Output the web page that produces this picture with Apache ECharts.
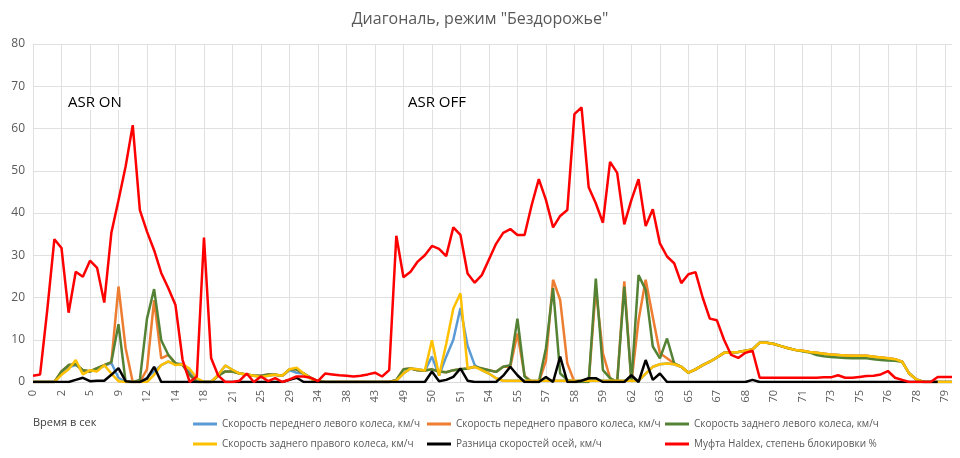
<!DOCTYPE html>
<html>
<head>
<meta charset="utf-8">
<script src="https://cdn.jsdelivr.net/npm/echarts@6/dist/echarts.min.js"></script>
<style>html,body{margin:0;padding:0;background:#fff}#main{width:960px;height:458px}</style>
</head>
<body>
<div id="main"></div>
<script>
// подписи оси X (каждая 4-я точка)
var secLabels = ['0','2','5','9','12','14','18','21','25','29','34','38','43','49','50','51','54','55','57','58','59','62','63','65','67','68','70','71','73','75','76','78','79'];
var categories = [];
for (var i = 0; i < 130; i++) {
    categories.push(secLabels[Math.min(Math.floor(i / 4), secLabels.length - 1)] + (i % 4 ? '.' + (i % 4) : ''));
}

var tail = [2.2,3,4,4.8,5.8,6.9,7,7.1,7.4,7.7,9.3,9.3,9,8.5,8,7.6,7.4,7.1,6.9,6.7,6.5,6.4,6.3,6.2,6.2,6.2,6,5.8,5.6,5.4,4.8,2,0.6,0,0,0,0,0];
var tailGreen = [2.2,3,4,4.8,5.8,6.9,7,7.1,7.4,7.7,9.3,9.3,9,8.5,8,7.6,7.3,7,6.4,6.1,5.9,5.8,5.7,5.6,5.6,5.6,5.4,5.2,5.1,5,4.8,2,0.6,0,0,0,0,0];

var frontLeft = [0,0,0,0,2,3.5,4,2.8,2.5,3,3.8,4.5,1,0,0,0,1,2.5,4,4.8,4.3,4.3,2.5,0.5,0,0,1.7,3.9,2.9,2,1.8,1.5,1.2,1.5,1.7,1.5,2.8,2.2,2,0.8,0,0,0,0,0,0,0,0,0,0,0,0.3,2,3.2,3,2.7,6,1.5,6,10,17.5,8.6,4,2.8,2,0.9,0.3,0.3,0.3,0.3,0.3,0.3,0.3,0.3,0.3,0.3,0.3,0.3,0.3,0.3,0.3,0.3,0.3,0.3,0.3,0.3,2,3.6,4.2,4.4,4.2,3.6].concat(tail);
var frontRight = [0,0,0,0,2.5,4,4.2,2.8,2.5,3.3,4,4.7,22.6,8,0,0,3,19.4,5.6,6.4,4.4,4,1.7,0,0,0,1.5,2.5,2.5,2,1.8,1.5,1.5,1.8,1.7,1.5,3,3,2,1,0.2,0,0,0,0,0,0,0,0,0,0,0.5,3,3.2,2.8,2.7,3,2.5,2.3,2.8,3,3.2,3.6,3.2,2.8,2.4,3.6,3.6,11.5,1.5,0,0,5,24.2,19.4,4.4,0,0,0,22,6.8,0.9,0,23.8,0,14.6,24.2,15.4,6.8,5.6,4.4,3.6].concat(tail);
var rearLeft = [0,0,0,0,2.5,4,4.2,2.8,2.5,3.3,4,4.7,13.7,0,0,0.5,15,22,9.9,6.4,4.4,4,1.7,0,0,0,1.5,2.5,2.5,2,1.8,1.5,1.5,1.8,1.7,1.5,3,3,2,1,0.2,0,0,0,0,0,0,0,0,0,0,0.5,3,3.2,2.8,2.7,3,2.5,2.3,2.8,3,3.2,3.6,3.2,2.8,2.4,3.6,4,15,1.3,0,0,8,22.2,2,0.5,0,0,0,24.5,2.8,0.9,0,22.6,0,25.3,21.8,8.4,5.6,10.3,4.4,3.6].concat(tailGreen);
var rearRight = [0,0,0,0,1.7,3,5.2,1.8,2.8,2.5,4,2,0.2,0,0,0,0,1.7,4,4.9,4,4.2,3.1,0.9,0,0,1.7,3.9,2.9,2,1.8,1.5,1.2,1.5,1.7,1.5,3,3.4,2,0.8,0,0,0,0,0,0,0,0,0,0,0,0.3,2,3.2,3,2.7,9.9,1.5,9,17.4,21,3.2,3.6,2.8,2,0.9,0.3,0.3,0.3,0.3,0.3,0.3,0.3,0.3,0.3,0.3,0.3,0.3,0.3,0.3,0.3,0.3,0.3,0.3,0.3,0.3,2,3.6,4.2,4.4,4.2,3.6].concat(tail);
var axleDiff = [0,0,0,0,0,0,0.5,1,0.2,0.3,0.3,1.7,3.3,0.2,0,0,0.8,3.6,0,0,0,0,0,0,0,0,0,0,0,0,0,0,0,0,0,0,0.5,1,0,0,0,0,0,0,0,0,0,0,0,0,0,0,0,0,0,0,2.5,0.2,0.5,1.2,3.2,0.3,0,0,0,0,1.5,3.6,1.6,0,0,0,1.2,0,6,0,0,0.3,0.9,0.9,0,0,0,0,1.6,0,5.2,0.5,2,0,0,0,0,0,0,0,0,0,0,0,0,0.5,0,0,0,0,0,0,0,0,0,0,0,0,0,0,0,0,0,0,0,0,0,0,0,0,0,0];
var haldex = [1.5,1.8,17,33.8,31.7,16.4,26.1,24.9,28.7,27,18.8,35.3,43,51,60.8,40.7,35.6,31.2,25.8,22.2,18.2,5.2,0,1.3,34.2,5.7,1.5,0,0,0.3,2,0,1.3,0.2,0.9,0,0.6,1.3,1.3,1,0.2,2,1.8,1.6,1.5,1.3,1.5,1.8,2.2,1.3,2.8,34.6,24.8,26.1,28.5,30,32.2,31.5,29.8,36.6,34.8,25.7,23.5,25.3,29,32.7,35.3,36.2,34.8,34.8,41.9,48,43.1,36.6,39.3,40.7,63.4,65,46.1,42.3,37.7,52.1,49.5,37.3,43.1,48,36.9,40.9,32.8,29.7,28.1,23.4,25.5,26,20,15,14.6,10,6.4,5.7,6.9,7.4,1,1,1,1,1,1,1,1,1,1.1,1.1,1.6,1,1,1.2,1.4,1.5,1.8,2.6,1,0.5,0,0,0,0,1.2,1.2,1.2];

var names = ['Скорость переднего левого колеса, км/ч','Скорость переднего правого колеса, км/ч','Скорость заднего левого колеса, км/ч',
    'Скорость заднего правого колеса, км/ч','Разница скоростей осей, км/ч','Муфта Haldex, степень блокировки %'];
var colors = ['#5b9bd5','#ed7d31','#548235','#ffc000','#000000','#ff0000'];
var values = [frontLeft, frontRight, rearLeft, rearRight, axleDiff, haldex];

var myChart = echarts.init(document.getElementById('main'));

var series = [];
for (var k = 0; k < names.length; k++) {
    series.push({
        name: names[k],
        type: 'line',
        data: values[k],
        showSymbol: false,
        lineStyle: {width: 2.5, color: colors[k]},
        itemStyle: {color: colors[k]},
        z: k == 5 ? 3 : 2
    });
}

function legendCol(left, items) {
    return {
        left: left, top: 414, orient: 'vertical', itemGap: 10,
        itemWidth: 24, itemHeight: 3, icon: 'rect',
        textStyle: {color: '#595959', fontSize: 10, fontFamily: 'Open Sans'},
        data: items
    };
}

var option = {
    title: {
        text: 'Диагональ, режим "Бездорожье"',
        left: 'center', top: 6,
        textStyle: {color: '#595959', fontSize: 16, fontWeight: 'normal', fontFamily: 'Open Sans'}
    },
    legend: [
        legendCol(188, [names[0], names[3]]),
        legendCol(422, [names[1], names[4]]),
        legendCol(660, [names[2], names[5]])
    ],
    grid: {left: 33, right: 8, top: 44, bottom: 76},
    xAxis: {
        type: 'category',
        data: categories,
        boundaryGap: false,
        axisLine: {lineStyle: {color: '#d9d9d9'}},
        axisTick: {show: false},
        axisLabel: {interval: 3, rotate: 90, color: '#595959', fontSize: 11, fontFamily: 'Open Sans',
            formatter: function (v) { return v.indexOf('.') < 0 ? v : ''; }},
        splitLine: {show: true, interval: 3, lineStyle: {color: '#e0e0e0'}}
    },
    yAxis: {
        type: 'value', min: 0, max: 80, interval: 10,
        axisLabel: {color: '#595959', fontSize: 12, fontFamily: 'Open Sans'},
        splitLine: {lineStyle: {color: '#e0e0e0'}}
    },
    graphic: [
        {type: 'text', left: 33, top: 417, style: {text: 'Время в сек', fill: '#404040', fontSize: 11, fontFamily: 'Open Sans'}},
        {type: 'text', left: 66, top: 95, z: 10, style: {text: 'ASR ON', fill: '#000', fontSize: 15, fontFamily: 'Open Sans', backgroundColor: '#fff', padding: [0, 2]}},
        {type: 'text', left: 406, top: 95, z: 10, style: {text: 'ASR OFF', fill: '#000', fontSize: 15, fontFamily: 'Open Sans', backgroundColor: '#fff', padding: [0, 2]}}
    ],
    series: series
};

myChart.setOption(option);
</script>
</body>
</html>
